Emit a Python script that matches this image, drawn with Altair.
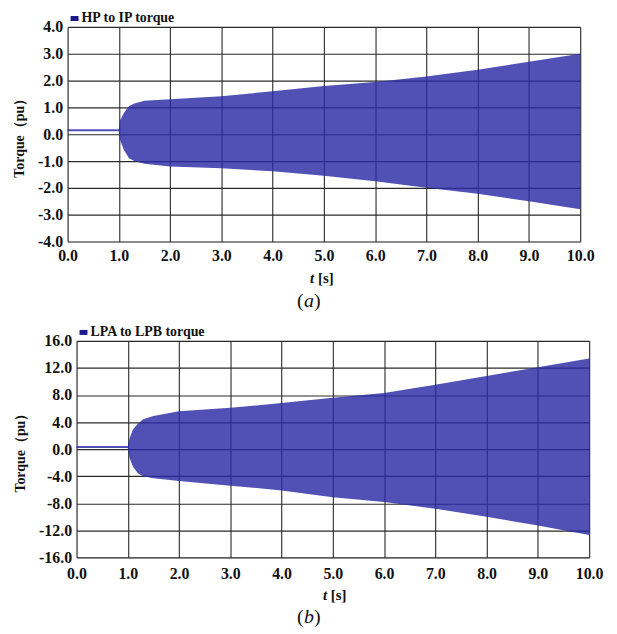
import altair as alt
import pandas as pd

# ---- data (envelope of the oscillating torque) ----
t_a = [0.0, 1.0, 1.02, 1.1, 1.2, 1.3, 1.5, 2.0, 3.0, 4.0, 5.0, 6.0, 7.0, 8.0, 9.0, 10.0]
up_a = [0.19, 0.19, 0.5, 0.8, 1.05, 1.15, 1.25, 1.3, 1.42, 1.6, 1.8, 1.95, 2.15, 2.4, 2.7, 3.0]
lo_a = [0.11, 0.11, -0.2, -0.6, -0.9, -1.0, -1.1, -1.2, -1.27, -1.38, -1.55, -1.75, -2.0, -2.22, -2.5, -2.8]

t_b = [0.0, 1.0, 1.03, 1.1, 1.2, 1.3, 1.5, 2.0, 3.0, 4.0, 5.0, 6.0, 7.0, 8.0, 9.0, 10.0]
up_b = [0.45, 0.45, 1.5, 2.9, 3.8, 4.4, 4.9, 5.6, 6.1, 6.8, 7.6, 8.3, 9.5, 10.8, 12.1, 13.4]
lo_b = [0.15, 0.15, -1.2, -2.6, -3.6, -4.0, -4.3, -4.7, -5.4, -6.1, -7.1, -7.8, -8.8, -10.0, -11.3, -12.7]

x_ticks = [0, 1, 2, 3, 4, 5, 6, 7, 8, 9, 10]
y_ticks_a = [-4, -3, -2, -1, 0, 1, 2, 3, 4]
y_ticks_b = [-16, -12, -8, -4, 0, 4, 8, 12, 16]

SERIF = "Liberation Serif"
FILL = "#2a2aa5"
LABEL_EXPR = "(datum.value < 0 ? '-' : '') + format(abs(datum.value), '.1f')"


def txt(s, x, y, size=15, weight="bold", style="normal", align="left"):
    return alt.Chart(pd.DataFrame({"s": [s]})).mark_text(
        font=SERIF, fontSize=size, fontWeight=weight, fontStyle=style,
        align=align, baseline="middle", color="#111111"
    ).encode(text="s:N", x=alt.value(x), y=alt.value(y))


def panel(t, up, lo, ydom, yticks, legend, letter, h, xpad, tpos, ty, cpos, cy):
    df = pd.DataFrame({"t": t, "up": up, "lo": lo})
    area = alt.Chart(df).mark_area(color=FILL, opacity=0.82, interpolate="linear").encode(
        x=alt.X("t:Q", scale=alt.Scale(domain=[0, 10], nice=False),
                axis=alt.Axis(values=x_ticks, labelExpr=LABEL_EXPR, title=None,
                              ticks=False, domain=False, labelPadding=xpad,
                              labelFont=SERIF, labelFontWeight="bold", labelFontSize=16,
                              labelColor="#111111", labelFlush=False,
                              gridColor="#3a3a3a", gridWidth=1.2, gridOpacity=1)),
        y=alt.Y("up:Q", scale=alt.Scale(domain=ydom, nice=False, zero=False),
                axis=alt.Axis(values=yticks, labelExpr=LABEL_EXPR, title="Torque（pu）",
                              ticks=False, domain=False, labelPadding=5,
                              labelFont=SERIF, labelFontWeight="bold", labelFontSize=16,
                              labelColor="#111111", titleFont=SERIF, titleFontWeight="bold",
                              titleFontSize=14, titleColor="#111111", titlePadding=11,
                              gridColor="#2a2a2a", gridWidth=1.2, gridOpacity=1)),
        y2="lo:Q",
    )
    sq = alt.Chart(pd.DataFrame({"s": [legend]})).mark_rect(color="#1a1a8c").encode(
        x=alt.value(3), x2=alt.value(11), y=alt.value(-11), y2=alt.value(-6))
    leg = txt(legend, 14, -9, size=14)
    tt = txt("t", tpos, ty, size=15, style="italic")
    ts = txt("[s]", tpos + 8, ty, size=15)
    c1 = txt("(", cpos, cy, size=20, weight="normal")
    c2 = txt(letter, cpos + 7, cy, size=20, weight="normal", style="italic")
    c3 = txt(")", cpos + 17, cy, size=20, weight="normal")
    return alt.layer(area, sq, leg, tt, ts, c1, c2, c3).properties(width=516, height=h)


top = panel(t_a, up_a, lo_a, [-4, 4], y_ticks_a, "HP to IP torque", "a", 216, 6, 244, 253, 231, 276)
bottom = panel(t_b, up_b, lo_b, [-16, 16], y_ticks_b, "LPA to LPB torque", "b", 218, 8, 248, 256, 222, 278)

# empty, invisible spacer that shifts the lower panel right (its labels are wider)
spacer = alt.Chart(pd.DataFrame({"s": [""]})).mark_text().encode(
    text="s:N", x=alt.value(0), y=alt.value(0)
).properties(width=9, height=1, view=alt.ViewBackground(stroke="transparent", strokeWidth=0))

bottom_row = alt.hconcat(spacer, bottom, spacing=0, bounds="flush")

chart = alt.vconcat(top, bottom_row, spacing=12).properties(
    padding={"left": 4, "top": 0, "right": 5, "bottom": 0}
).configure_view(stroke="#111111", strokeWidth=2.5).configure(background="white")

chart.save("out.html", embed_options={"renderer": "svg", "actions": False})
